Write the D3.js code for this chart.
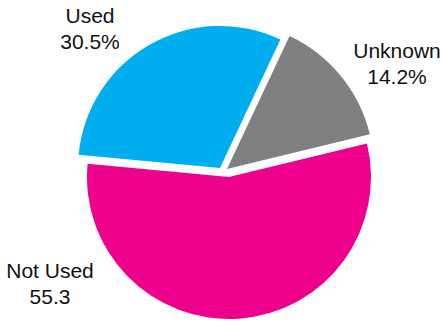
<!DOCTYPE html>
<html>
<head>
<meta charset="utf-8">
<script src="https://cdn.jsdelivr.net/npm/d3@7/dist/d3.min.js"></script>
<style>
  html, body { margin: 0; padding: 0; background: #fff; }
  svg { display: block; }
  text { font-family: "Liberation Sans", Arial, Helvetica, sans-serif; fill: #111; }
</style>
</head>
<body>
<svg id="chart" width="442" height="322"></svg>
<script>
// Data
const categories = ["Used", "Unknown", "Not Used"];
const values = [30.5, 14.2, 55.3];
const valueLabels = ["30.5%", "14.2%", "55.3"];
const colors = ["#00AEEF", "#808080", "#EC008C"];

// Layout
const width = 442, height = 322;
const center = [226, 170];
const radius = [142, 147, 142];
// exploded slices: shift of each slice from the common centre
const explode = [[-6, -2], [1, -1], [3, 7]];
// label anchors (centre of first line baseline)
const labelPos = [[90, 23], [397, 58], [50, 278]];
const lineGap = 25.5;
const startDeg = -84.6;

const svg = d3.select("#chart");

const pie = d3.pie()
  .sort(null)
  .value(d => d)
  .startAngle(startDeg * Math.PI / 180)
  .endAngle(startDeg * Math.PI / 180 + 2 * Math.PI);

const arcs = pie(values);

const slices = svg.append("g")
  .attr("transform", `translate(${center[0]},${center[1]})`);

slices.selectAll("path")
  .data(arcs)
  .join("path")
  .attr("transform", (d, i) => `translate(${explode[i][0]},${explode[i][1]})`)
  .attr("d", (d, i) => d3.arc().innerRadius(0).outerRadius(radius[i])(d))
  .attr("fill", (d, i) => colors[i]);

const labels = svg.append("g");
categories.forEach((c, i) => {
  const t = labels.append("text")
    .attr("text-anchor", "middle")
    .attr("font-size", 21)
    .attr("x", labelPos[i][0])
    .attr("y", labelPos[i][1]);
  t.append("tspan").attr("x", labelPos[i][0]).text(c);
  t.append("tspan").attr("x", labelPos[i][0]).attr("dy", lineGap).text(valueLabels[i]);
});
</script>
</body>
</html>
